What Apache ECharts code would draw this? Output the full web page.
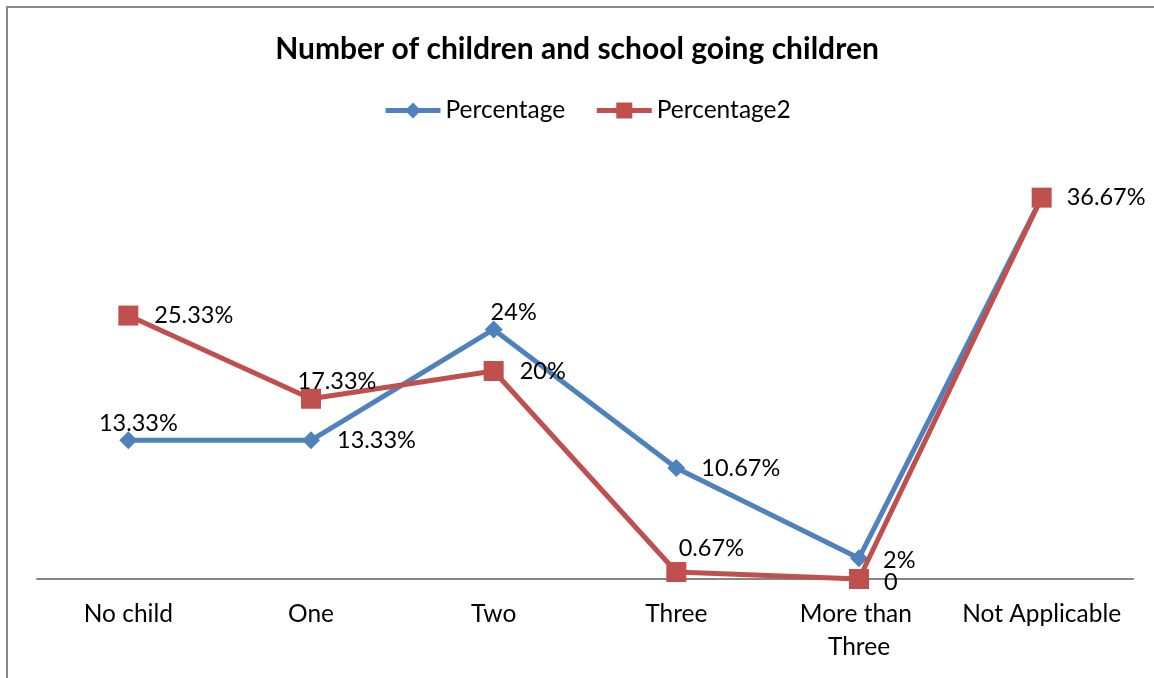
<!DOCTYPE html>
<html>
<head>
<meta charset="utf-8">
<script src="https://cdn.jsdelivr.net/npm/echarts@6/dist/echarts.min.js"></script>
<style>
  html, body { margin: 0; padding: 0; background: #fff; }
  #chart { width: 1154px; height: 678px; }
</style>
</head>
<body>
<div id="chart"></div>
<script>
// Categories and series values (percent of respondents)
const categories = ['No child', 'One', 'Two', 'Three', 'More than Three', 'Not Applicable'];
const percentage = [13.33, 13.33, 24, 10.67, 2, 36.67];
const percentage2 = [25.33, 17.33, 20, 0.67, 0, 36.67];

// Where each value label sits relative to its marker
const bluePlacement = [
  { position: 'top', distance: 0, offset: [10, 4] },
  { position: 'right', distance: 17 },
  { position: 'top', distance: 0, offset: [20, 4] },
  { position: 'right', distance: 16 },
  { position: 'right', distance: 15, offset: [0, 2] },
  { show: false }
];
const redPlacement = [
  { position: 'right', distance: 16 },
  { position: 'top', distance: 0, offset: [26, 5] },
  { position: 'right', distance: 16 },
  { position: 'top', distance: 0, offset: [35, -2] },
  { position: 'right', distance: 15, offset: [0, 3] },
  { position: 'right', distance: 15 }
];

const FONT = 'Lato';
const fmt = v => (v === 0 ? '0' : v + '%');

function buildData(values, placement) {
  return values.map((v, i) => ({
    value: v,
    label: Object.assign({}, placement[i])
  }));
}

const chart = echarts.init(document.getElementById('chart'), null, { renderer: 'canvas' });

chart.setOption({
  backgroundColor: '#ffffff',
  animation: false,
  textStyle: { fontFamily: FONT },
  title: {
    text: 'Number of children and school going children',
    left: 'center',
    top: 29,
    textStyle: { fontFamily: FONT, fontWeight: 'bold', fontSize: 30, color: '#000' }
  },
  legend: {
    top: 93,
    left: 378,
    itemWidth: 55,
    itemHeight: 20,
    itemGap: 29,
    lineStyle: { width: 5 },
    textStyle: { fontFamily: FONT, fontSize: 24.5, color: '#000' },
    data: ['Percentage', 'Percentage2']
  },
  graphic: [{
    type: 'rect',
    shape: { x: 7, y: 7, width: 1300, height: 800 },
    style: { fill: 'none', stroke: '#8a8a8a', lineWidth: 2 },
    silent: true,
    z: -1
  }],
  grid: { left: 37, right: 21, top: 163, bottom: 99 },
  xAxis: {
    type: 'category',
    data: categories,
    boundaryGap: true,
    axisLine: { show: true, lineStyle: { color: '#868686', width: 2 } },
    axisTick: { show: false },
    axisLabel: {
      fontFamily: FONT,
      fontSize: 24.5,
      color: '#000',
      margin: 19,
      lineHeight: 33,
      width: 170,
      overflow: 'break',
      interval: 0
    }
  },
  yAxis: {
    type: 'value',
    min: 0,
    max: 40,
    show: false,
    splitLine: { show: false }
  },
  series: [
    {
      name: 'Percentage',
      type: 'line',
      data: buildData(percentage, bluePlacement),
      symbol: 'diamond',
      symbolSize: 18,
      color: '#4F81BD',
      lineStyle: { width: 5, color: '#4F81BD' },
      itemStyle: { color: '#4F81BD' },
      label: {
        show: true,
        formatter: p => fmt(p.value),
        fontFamily: FONT,
        fontSize: 23.5,
        color: '#000'
      },
      z: 2
    },
    {
      name: 'Percentage2',
      type: 'line',
      data: buildData(percentage2, redPlacement),
      symbol: 'rect',
      symbolSize: 20,
      color: '#C0504D',
      lineStyle: { width: 5, color: '#C0504D' },
      itemStyle: { color: '#C0504D' },
      label: {
        show: true,
        formatter: p => fmt(p.value),
        fontFamily: FONT,
        fontSize: 23.5,
        color: '#000'
      },
      z: 3
    }
  ]
});
</script>
</body>
</html>
